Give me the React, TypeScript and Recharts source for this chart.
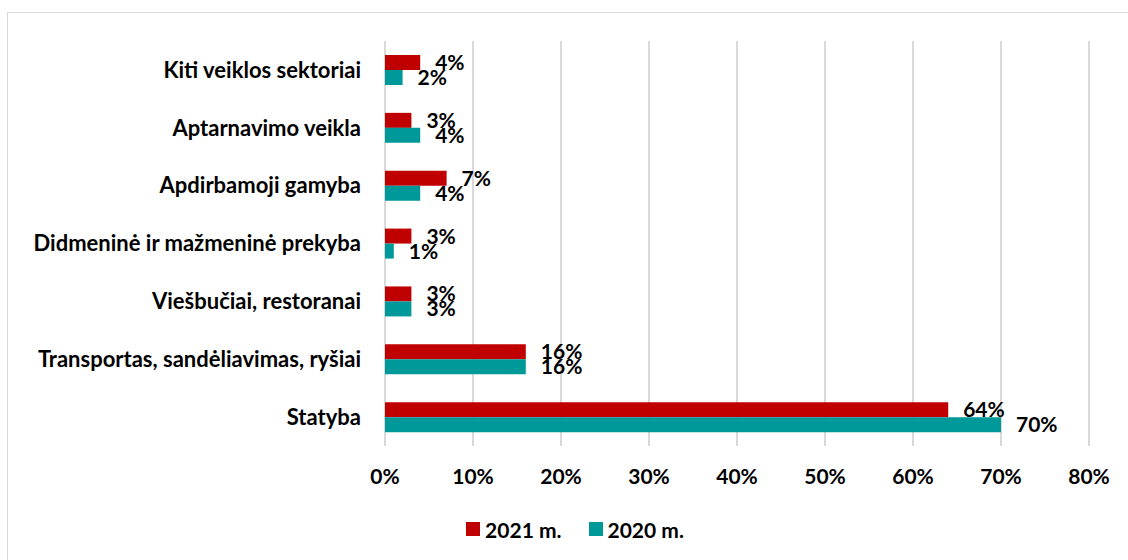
import {
    BarChart,
    Bar,
    XAxis,
    YAxis,
    CartesianGrid,
    LabelList,
    Legend,
} from "recharts";

const categories = [
    "Kiti veiklos sektoriai",
    "Aptarnavimo veikla",
    "Apdirbamoji gamyba",
    "Didmeninė ir mažmeninė prekyba",
    "Viešbučiai, restoranai",
    "Transportas, sandėliavimas, ryšiai",
    "Statyba",
];
const values2021 = [4, 3, 7, 3, 3, 16, 64];
const values2020 = [2, 4, 4, 1, 3, 16, 70];
const xTicks = [0, 10, 20, 30, 40, 50, 60, 70, 80];

const SERIES = [
    { key: "y2021", label: "2021 m.", color: "#C00000" },
    { key: "y2020", label: "2020 m.", color: "#009999" },
];

const data = categories.map((name, i) => ({
    name,
    y2021: values2021[i],
    y2020: values2020[i],
}));

const FONT = "Lato, 'Noto Sans', sans-serif";
const FS = 21;

const LegendBox = () => (
    <div
        style={{
            display: "flex",
            justifyContent: "center",
            alignItems: "center",
            height: 24,
            paddingLeft: 61,
            gap: 27,
        }}
    >
        {SERIES.map((s) => (
            <div key={s.key} style={{ display: "flex", alignItems: "center", gap: 5 }}>
                <div style={{ width: 14, height: 14, backgroundColor: s.color }} />
                <span style={{ fontSize: FS, fontWeight: 700, color: "#000" }}>{s.label}</span>
            </div>
        ))}
    </div>
);

const App = () => {
    return (
        <div style={{ fontFamily: FONT }}>
            <div
                style={{
                    position: "absolute",
                    left: 7,
                    top: 12,
                    width: 1121,
                    height: 548,
                    borderTop: "1px solid #d9d9d9",
                    borderLeft: "1px solid #d9d9d9",
                    boxSizing: "border-box",
                }}
            />
            <div style={{ position: "absolute", left: 0, top: 0 }}>
                <BarChart
                    width={1128}
                    height={560}
                    data={data}
                    layout="vertical"
                    margin={{ top: 41, right: 39, left: 0, bottom: 19 }}
                    barSize={15}
                    barGap={0}
                >
                    <CartesianGrid horizontal={false} stroke="#d9d9d9" strokeWidth={2} />
                    <XAxis
                        type="number"
                        domain={[0, 80]}
                        ticks={xTicks}
                        tickFormatter={(v) => `${v}%`}
                        axisLine={false}
                        tickLine={false}
                        tickSize={0}
                        tickMargin={23}
                        height={71}
                        interval={0}
                        tick={{ fontSize: FS, fontWeight: 700, fill: "#000" }}
                    />
                    <YAxis
                        type="category"
                        dataKey="name"
                        width={385}
                        axisLine={false}
                        tickLine={false}
                        tickSize={0}
                        tickMargin={24}
                        interval={0}
                        tick={{ fontSize: 22, fontWeight: 700, fill: "#000" }}
                    />
                    <Legend verticalAlign="bottom" height={24} content={<LegendBox />} />
                    {SERIES.map((s) => (
                        <Bar key={s.key} dataKey={s.key} name={s.label} fill={s.color} isAnimationActive={false}>
                            <LabelList
                                dataKey={s.key}
                                position="right"
                                offset={15}
                                formatter={(v: any) => `${v}%`}
                                style={{ fontSize: FS, fontWeight: 700, fill: "#000" }}
                            />
                        </Bar>
                    ))}
                </BarChart>
            </div>
        </div>
    );
};

export default App;
